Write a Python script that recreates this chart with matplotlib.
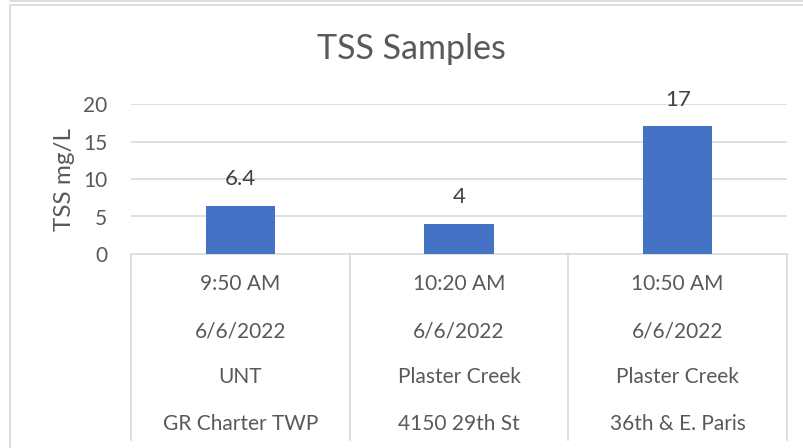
import matplotlib.pyplot as plt
from matplotlib.lines import Line2D

# data
times = ["9:50 AM", "10:20 AM", "10:50 AM"]
dates = ["6/6/2022", "6/6/2022", "6/6/2022"]
streams = ["UNT", "Plaster Creek", "Plaster Creek"]
sites = ["GR Charter TWP", "4150 29th St", "36th & E. Paris"]
tss = [6.4, 4, 17]
yticks = [0, 5, 10, 15, 20]

plt.rcParams["font.family"] = ["Lato", "DejaVu Sans"]
TEXT = "#595959"
GRID = "#D9D9D9"
BAR = "#4472C4"

W, H = 804, 448
fig = plt.figure(figsize=(W / 100, H / 100), dpi=100)

# chart frame lines (Excel style)
fig.add_artist(Line2D([10 / W, 1], [1 - 1 / H, 1 - 1 / H], color=GRID, lw=1.2))
fig.add_artist(Line2D([10.5 / W, 10.5 / W, 1], [0, 1 - 5.5 / H, 1 - 5.5 / H], color=GRID, lw=1.2))

left, right = 131, 787
y0, y20 = 254, 104
ax = fig.add_axes([left / W, (H - y0) / H, (right - left) / W, (y0 - y20) / H])

x = range(len(tss))
bars = ax.bar(x, tss, width=0.317, color=BAR, zorder=3)
for b, v in zip(bars, tss):
    ax.annotate(f"{v:g}", (b.get_x() + b.get_width() / 2, v), xytext=(0, 12),
                textcoords="offset points", ha="center", va="bottom",
                fontsize=16, color="#404040")

ax.set_xlim(-0.5, 2.5)
ax.set_ylim(0, 20)
ax.set_yticks(yticks)
ax.tick_params(axis="y", length=0, pad=17, labelsize=15, labelcolor=TEXT)
ax.set_xticks([])
for t in yticks[1:]:
    ax.axhline(t, color=GRID, lw=1.2, zorder=1)
for s in ax.spines.values():
    s.set_visible(False)
ax.set_ylabel("TSS mg/L", fontsize=17.5, color=TEXT, labelpad=6)

# multi-level category table under the axis
span = y0 - y20
bottom = -(440 - y0) / span
ax.plot([-0.5, 2.5], [0, 0], color=GRID, lw=1.2, clip_on=False, zorder=2)
for xv in [-0.5, 0.5, 1.5, 2.5]:
    ax.plot([xv, xv], [0, bottom], transform=ax.get_xaxis_transform(),
            color=GRID, lw=1.2, clip_on=False)
rows = [times, dates, streams, sites]
row_y = [284, 331, 377, 424]
for labels, py in zip(rows, row_y):
    for i, lab in enumerate(labels):
        ax.text(i, -(py - y0) / span, lab, transform=ax.get_xaxis_transform(),
                ha="center", va="center", fontsize=15, color=TEXT)

fig.text(411 / W, 1 - 49 / H, "TSS Samples", ha="center", va="center",
         fontsize=24.5, color=TEXT)

fig.savefig("out.png", dpi=100)
